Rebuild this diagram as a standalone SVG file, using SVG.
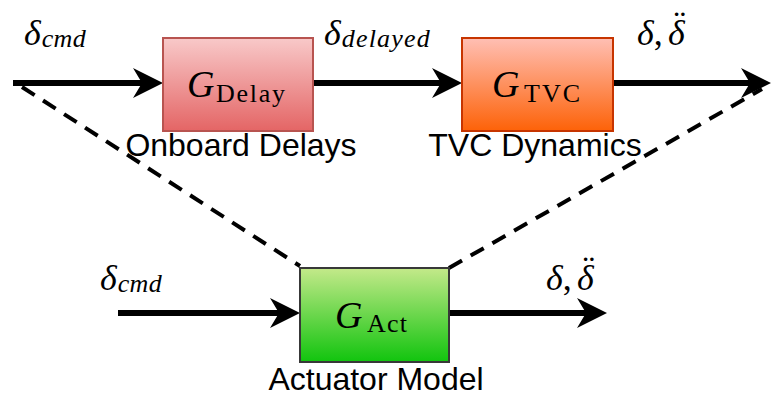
<svg xmlns="http://www.w3.org/2000/svg" width="771" height="396" viewBox="0 0 771 396">
<style>
.ln{stroke:#000;stroke-width:6;fill:none}
.dash{stroke:#000;stroke-width:4;fill:none;stroke-dasharray:15 10}
.m{font-family:"Liberation Serif","DejaVu Serif",serif;font-style:italic;fill:#000}
.r{font-family:"Liberation Serif","DejaVu Serif",serif;font-style:normal;fill:#000}
.lab{font-family:"Liberation Sans",Arial,sans-serif;font-size:32px;fill:#000;text-anchor:middle}
</style>
<defs>
<linearGradient id="gRed" x1="0" y1="0" x2="0" y2="1"><stop offset="0" stop-color="#f8c9c9"/><stop offset="1" stop-color="#e46565"/></linearGradient>
<linearGradient id="gOr" x1="0" y1="0" x2="0" y2="1"><stop offset="0" stop-color="#ffbfb4"/><stop offset="1" stop-color="#fd6208"/></linearGradient>
<linearGradient id="gGr" x1="0" y1="0" x2="0" y2="1"><stop offset="0" stop-color="#c4e98a"/><stop offset="1" stop-color="#11c40e"/></linearGradient>
<marker id="arr" markerUnits="userSpaceOnUse" markerWidth="32" markerHeight="32" refX="9" refY="15" orient="auto" overflow="visible">
<path d="M0,0 L30,15 L0,30 L9,15 Z" fill="#000"/>
</marker>
</defs>
<g id="connectors">
<line class="dash" x1="22" y1="87" x2="300" y2="266"/>
<line class="dash" x1="449" y1="268" x2="762" y2="89"/>
<line class="ln" x1="13" y1="83" x2="142" y2="83" marker-end="url(#arr)"/>
<line class="ln" x1="313" y1="83" x2="441" y2="83" marker-end="url(#arr)"/>
<line class="ln" x1="613" y1="83" x2="750" y2="83" marker-end="url(#arr)"/>
<line class="ln" x1="118" y1="313" x2="279" y2="313" marker-end="url(#arr)"/>
<line class="ln" x1="450" y1="313" x2="586" y2="313" marker-end="url(#arr)"/>
</g>
<g id="labels">
<text class="m" x="24" y="45" font-size="36">δ<tspan font-size="26" dx="1" dy="2" textLength="44">cmd</tspan></text>
<text class="m" x="324" y="45" font-size="36">δ<tspan font-size="26" dx="1" dy="2" textLength="88">delayed</tspan></text>
<text class="m" x="637" y="45" font-size="36">δ<tspan class="r">,</tspan><tspan x="668">δ</tspan><tspan class="r" dx="-11" dy="-10">¨</tspan></text>
<text class="m" x="100" y="290" font-size="36">δ<tspan font-size="26" dx="1" dy="2" textLength="44">cmd</tspan></text>
<text class="m" x="546" y="290" font-size="36">δ<tspan class="r">,</tspan><tspan x="577">δ</tspan><tspan class="r" dx="-11" dy="-10">¨</tspan></text>
</g>
<g id="delay">
<rect x="163" y="38" width="150" height="93" fill="url(#gRed)" stroke="#b85450" stroke-width="2"/>
<text class="m" x="187" y="97" font-size="38">G<tspan class="r" x="216" font-size="26" dy="5" textLength="69">Delay</tspan></text>
<text class="lab" x="241" y="156">Onboard Delays</text>
</g>
<g id="tvc">
<rect x="462" y="38" width="151" height="93" fill="url(#gOr)" stroke="#c73500" stroke-width="2"/>
<text class="m" x="492" y="97" font-size="38">G<tspan class="r" x="524" font-size="26" dy="5" textLength="56">TVC</tspan></text>
<text class="lab" x="535" y="156">TVC Dynamics</text>
</g>
<g id="act">
<rect x="300" y="268" width="149" height="94" fill="url(#gGr)" stroke="#383838" stroke-width="2"/>
<text class="m" x="335" y="328" font-size="38">G<tspan class="r" x="367" font-size="26" dy="4" textLength="40">Act</tspan></text>
<text class="lab" x="376" y="390">Actuator Model</text>
</g>
</svg>
